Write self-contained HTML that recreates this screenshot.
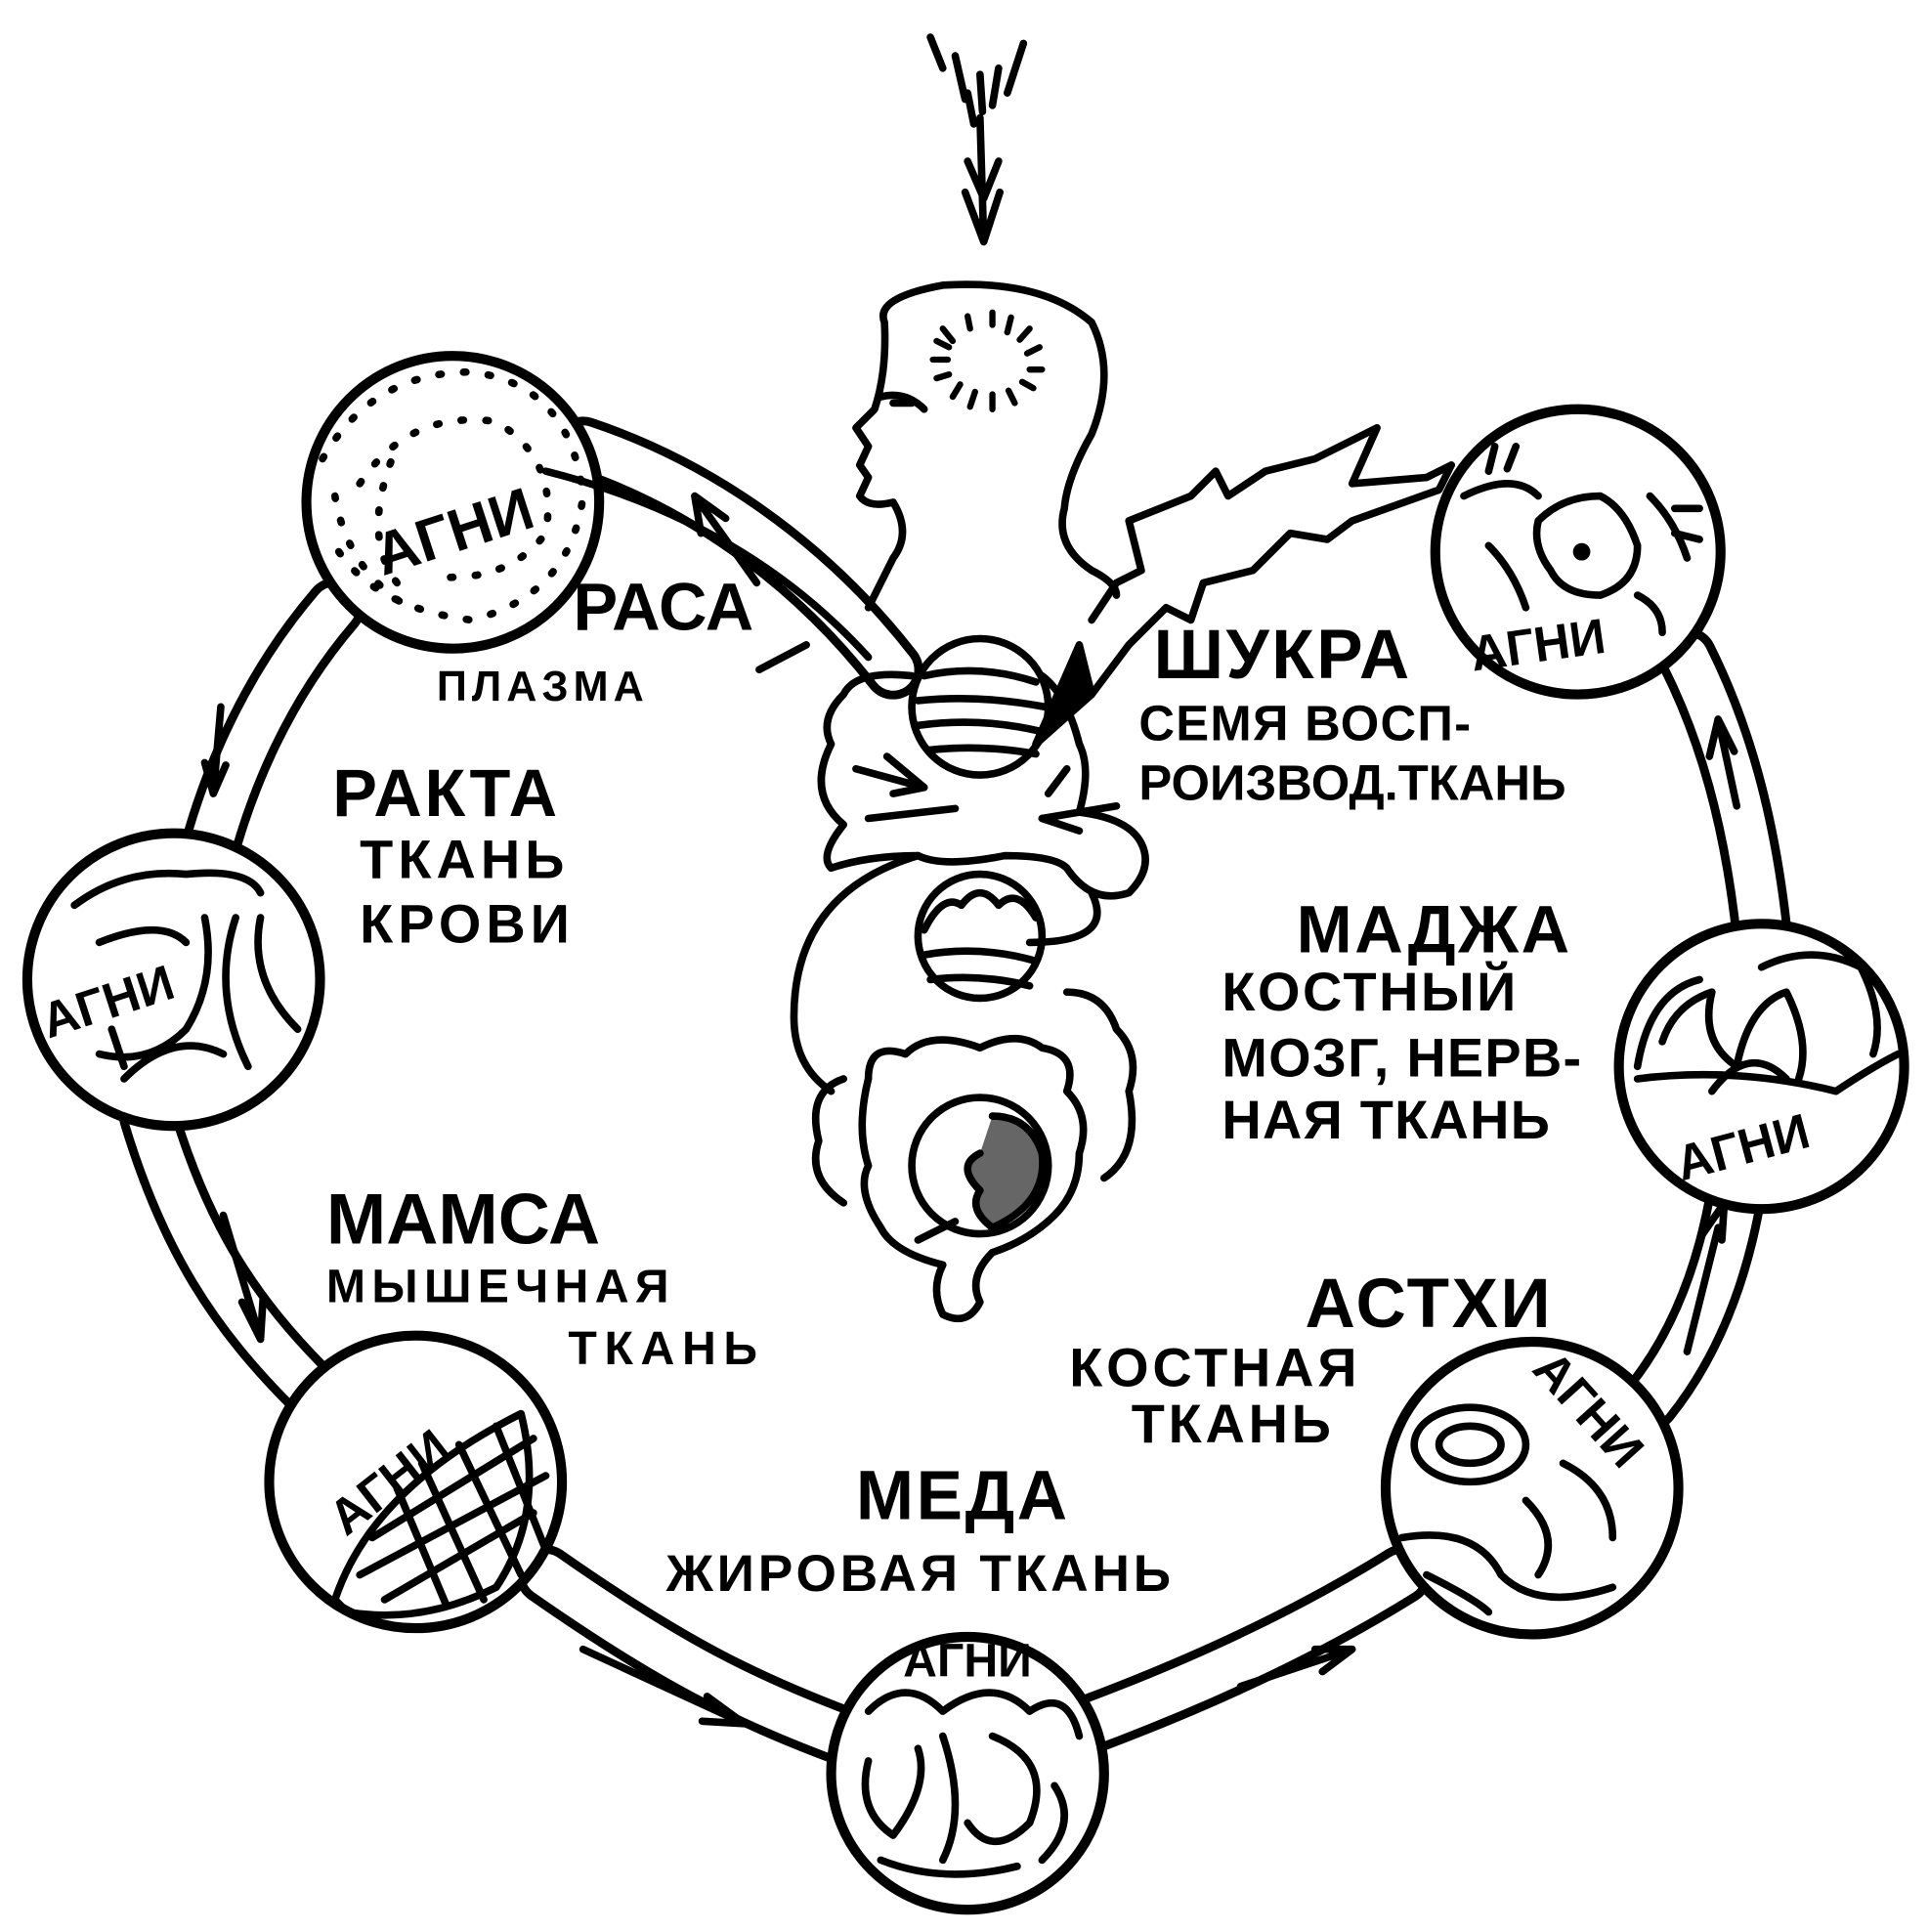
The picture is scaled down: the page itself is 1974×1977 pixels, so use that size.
<!DOCTYPE html>
<html><head><meta charset="utf-8"><style>
html,body{margin:0;padding:0;background:#fff;}
svg{display:block;}
text{font-family:"Liberation Sans",sans-serif;fill:#000;font-weight:bold;}
</style></head><body>
<svg width="1974" height="1977" viewBox="0 0 1555 1558" preserveAspectRatio="none" xmlns="http://www.w3.org/2000/svg">
<g fill="none" stroke="#000" stroke-linecap="round" stroke-linejoin="round">
<path d="M470 360 C560 390 650 450 720 540 M270 490 C210 560 180 640 165 700 M120 900 C150 1000 190 1060 250 1120 M440 1270 C540 1340 600 1370 680 1400 M880 1390 C960 1360 1050 1320 1130 1270 M1330 1130 C1370 1080 1390 1020 1400 960 M1420 750 C1410 660 1390 590 1360 530" stroke-width="48"/>
<path d="M470 360 C560 390 650 450 720 540 M270 490 C210 560 180 640 165 700 M120 900 C150 1000 190 1060 250 1120 M440 1270 C540 1340 600 1370 680 1400 M880 1390 C960 1360 1050 1320 1130 1270 M1330 1130 C1370 1080 1390 1020 1400 960 M1420 750 C1410 660 1390 590 1360 530" stroke="#fff" stroke-width="34"/>
<g stroke-width="6">
<path d="M178 570 L172 640 M165 615 L172 640 L182 617"/>
<path d="M180 980 L210 1080 M195 1050 L210 1080 L212 1048"/>
<path d="M470 1330 L600 1390 M570 1368 L600 1390 L566 1388"/>
<path d="M1000 1360 L1090 1330 M1060 1330 L1090 1330 L1066 1348"/>
<path d="M1385 990 L1360 1090 M1388 1000 L1390 970 L1372 996"/>
<path d="M1400 650 L1385 580 M1378 610 L1385 580 L1398 606"/>
<path d="M610 470 L560 400 M565 430 L560 400 L585 418"/>
</g>
<g stroke-width="8" fill="#fff">
<circle cx="365" cy="405" r="118"/>
<circle cx="140" cy="790" r="118"/>
<circle cx="335" cy="1195" r="118"/>
<circle cx="780" cy="1430" r="110"/>
<circle cx="1235" cy="1200" r="118"/>
<circle cx="1420" cy="860" r="115"/>
<circle cx="1272" cy="445" r="115"/>
</g>
<g stroke-width="6" stroke-dasharray="2 18">
<path d="M260 370 Q300 300 380 300 Q460 310 470 400 Q460 480 380 500 Q300 490 270 440"/>
<path d="M290 390 Q330 330 400 340 Q450 370 440 430 Q410 470 350 465"/>
<path d="M320 470 Q290 430 320 360"/>
<path d="M270 400 Q280 460 330 490"/>
</g>
<g stroke-width="6">
<path d="M60 730 Q100 700 150 705 Q200 700 210 720 M80 760 Q130 740 150 760 M165 740 Q175 790 150 830 Q120 860 80 850 M190 740 Q170 800 200 860 M210 740 Q200 790 240 830 M100 870 Q140 830 180 850 M90 830 L100 860"/>
</g>
<g stroke-width="6">
<path d="M270 1290 Q300 1200 420 1140 Q440 1220 400 1280 Q340 1310 280 1300Z"/>
<path d="M300 1240 L430 1160 M290 1270 L440 1190 M310 1290 L430 1220 M340 1180 L390 1290 M370 1165 L420 1270 M400 1150 L440 1250 M320 1200 L360 1295"/>
</g>
<g stroke-width="6">
<path d="M700 1380 Q730 1350 760 1380 Q800 1350 830 1380 Q860 1360 870 1400 M700 1420 Q690 1460 720 1480 Q750 1440 740 1410 M760 1400 Q780 1460 760 1500 M800 1400 Q850 1420 830 1470 Q800 1500 780 1470 M710 1500 Q760 1520 820 1505 M850 1440 Q870 1470 840 1500"/>
</g>
<g stroke-width="6">
<ellipse cx="1185" cy="1165" rx="45" ry="30"/>
<ellipse cx="1185" cy="1165" rx="25" ry="15"/>
<path d="M1130 1240 Q1190 1230 1210 1270 Q1240 1300 1300 1280 M1150 1270 Q1190 1290 1200 1300 M1260 1180 Q1300 1200 1300 1240 M1230 1210 Q1260 1240 1240 1270"/>
</g>
<g stroke-width="6">
<path d="M1320 860 Q1330 800 1370 790 M1340 840 Q1350 810 1380 800 Q1370 840 1400 860 Q1410 810 1440 800 Q1460 840 1450 870 M1420 780 Q1460 760 1500 780 Q1520 820 1510 850 M1320 870 Q1400 860 1480 880 Q1510 860 1530 850 M1380 880 Q1410 840 1440 870"/>
</g>
<g stroke-width="6">
<path d="M1240 420 Q1260 400 1290 400 Q1310 410 1320 440 Q1320 470 1290 480 Q1260 480 1250 460 Q1235 440 1240 420Z"/>
<circle cx="1275" cy="445" r="4" fill="#000"/>
<path d="M1180 400 Q1220 380 1240 400 M1200 440 Q1220 460 1230 490 M1330 400 Q1350 420 1360 450 M1200 380 L1205 360 M1215 378 L1222 360 M1350 410 L1370 410 M1350 430 L1370 435 M1320 480 Q1340 490 1340 510"/>
</g>
<g stroke-width="6">
<path d="M790 95 L793 195 M778 155 L793 195 L806 155 M780 130 L793 160 L805 130"/>
<path d="M750 30 L760 55 M770 45 L778 80 M790 60 L792 90 M805 55 L800 85 M825 35 L812 75 M780 75 L785 100"/>
</g>
<g stroke-width="6">
<path d="M705 330 L690 345 L700 360 L693 375 L700 385 L693 400 Q700 410 720 405 Q735 430 720 450 Q710 470 700 490 M705 330 Q715 300 713 260 Q705 240 760 230 Q840 225 880 260 Q900 300 880 350 Q860 385 858 410 Q850 440 880 460 Q900 470 900 480"/>
<path d="M710 320 Q730 315 745 330" />
<path d="M720 325 L735 325"/>
</g>
<g stroke-width="5">
<path d="M760 265 L768 275 M780 255 L782 265 M800 252 L800 262 M815 256 L812 268 M830 265 L822 274 M838 280 L828 285 M840 298 L830 298 M833 313 L824 308 M818 325 L813 315 M800 330 L800 318 M782 328 L786 316 M768 320 L774 310 M755 305 L765 302 M752 290 L764 290 M755 275 L765 280"/>
</g>
<g stroke-width="6">
<path d="M612 540 L650 520 M440 380 Q600 420 700 530" />
<circle cx="790" cy="570" r="55"/>
<path d="M745 545 Q790 535 835 550 M740 565 Q790 560 842 570 M740 585 Q790 578 840 590 M748 605 Q790 600 835 608"/>
<path d="M735 545 Q690 540 680 560 Q660 580 670 600 Q650 640 680 665 Q660 690 670 700 Q700 690 740 690 Q760 700 810 690 Q850 690 860 700 Q880 730 910 720 Q930 700 920 680 Q910 660 870 655 Q880 620 870 600 Q860 560 840 545"/>
<path d="M690 620 L745 635 M715 610 L745 635 L720 640 M700 660 L770 652 M840 660 L900 650 M840 660 L870 670 M845 640 L860 620"/>
<path d="M870 520 L835 600 L880 560 Z" fill="#000"/>
<path d="M880 500 L900 470 L920 460 L910 420 L960 400 L980 380 L990 400 L1020 380 L1060 370 L1110 345 L1090 390 L1150 385 L1170 375 L1160 395 L1090 420 L1070 435 L1040 430 L1010 460 L970 470 L960 500 L940 490 L910 520 L880 560"/>
<circle cx="790" cy="755" r="50"/>
<path d="M745 750 Q760 720 775 730 Q790 710 805 730 Q820 715 835 740 M745 770 Q790 762 835 775 M750 790 Q790 785 830 795"/>
<path d="M740 690 Q640 720 640 820 Q640 860 670 880 M880 720 Q900 760 830 760"/>
<path d="M700 870 Q700 840 730 850 Q750 830 790 845 Q820 830 840 845 Q870 850 860 880 Q880 900 870 930 Q870 960 850 980 Q830 1000 800 1010 Q780 1030 790 1050 Q780 1070 760 1060 Q750 1040 760 1020 Q720 1010 710 990 Q690 960 700 940 Q690 910 700 870 Z"/>
<path d="M680 870 Q650 880 660 920 Q650 950 680 970 M860 800 Q890 800 900 830 Q920 850 910 880 Q920 930 890 950"/>
<circle cx="790" cy="940" r="55"/>
<path d="M800 900 Q830 900 840 930 Q845 970 800 990 Q780 975 790 960 Q770 940 790 930" fill="#000" fill-opacity="0.6"/>
<path d="M740 1000 L770 985"/>
</g>
</g>
<g>
<text x="462" y="508" font-size="54">РАСА</text>
<text x="352" y="565" font-size="34" letter-spacing="4">ПЛАЗМА</text>
<text x="268" y="658" font-size="54" letter-spacing="2">РАКТА</text>
<text x="290" y="708" font-size="44" letter-spacing="4">ТКАНЬ</text>
<text x="290" y="760" font-size="44" letter-spacing="4">КРОВИ</text>
<text x="263" y="1003" font-size="58">МАМСА</text>
<text x="263" y="1050" font-size="38" letter-spacing="5">МЫШЕЧНАЯ</text>
<text x="458" y="1100" font-size="38" letter-spacing="6">ТКАНЬ</text>
<text x="690" y="1225" font-size="56" letter-spacing="2">МЕДА</text>
<text x="537" y="1283" font-size="42" letter-spacing="3">ЖИРОВАЯ ТКАНЬ</text>
<text x="1052" y="1070" font-size="56" letter-spacing="2">АСТХИ</text>
<text x="862" y="1118" font-size="44" letter-spacing="3">КОСТНАЯ</text>
<text x="912" y="1163" font-size="44" letter-spacing="3">ТКАНЬ</text>
<text x="1045" y="768" font-size="54" letter-spacing="2">МАДЖА</text>
<text x="985" y="815" font-size="44" letter-spacing="2">КОСТНЫЙ</text>
<text x="985" y="868" font-size="44" letter-spacing="1">МОЗГ, НЕРВ-</text>
<text x="985" y="918" font-size="44" letter-spacing="1">НАЯ ТКАНЬ</text>
<text x="930" y="547" font-size="56" letter-spacing="2">ШУКРА</text>
<text x="918" y="597" font-size="40" letter-spacing="1">СЕМЯ ВОСП-</text>
<text x="918" y="645" font-size="40" letter-spacing="0">РОИЗВОД.ТКАНЬ</text>
<text x="300" y="450" font-size="48" transform="rotate(-18 350 430)">АГНИ</text>
<text x="30" y="820" font-size="40" transform="rotate(-18 90 800)">АГНИ</text>
<text x="255" y="1210" font-size="40" transform="rotate(-38 310 1190)">АГНИ</text>
<text x="728" y="1352" font-size="38">АГНИ</text>
<text x="1205" y="1150" font-size="40" transform="rotate(48 1270 1160)">АГНИ</text>
<text x="1350" y="940" font-size="40" transform="rotate(-15 1400 925)">АГНИ</text>
<text x="1185" y="535" font-size="40" transform="rotate(-8 1230 520)">АГНИ</text>
</g>
</svg>
</body></html>
